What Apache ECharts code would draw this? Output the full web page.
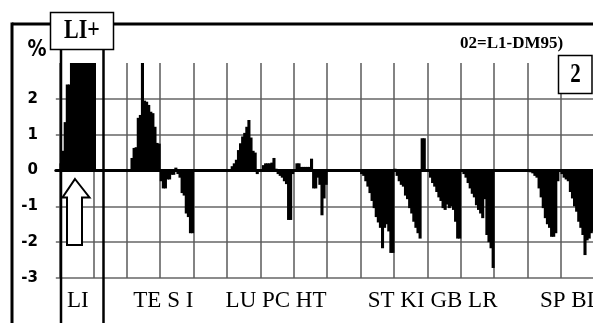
<!DOCTYPE html>
<html>
<head>
<meta charset="utf-8">
<script src="https://cdn.jsdelivr.net/npm/echarts@6.0.0/dist/echarts.min.js"></script>
<style>
html, body { margin: 0; padding: 0; background: #fff; }
#container { width: 593px; height: 323px; }
</style>
</head>
<body>
<div id="container"></div>
<script>
// % values, one array per 16-bar block between vertical grid lines
var LI_a = [0.2, 0.55, 1.35, 2.4, 2.4, 3, 3, 3, 3, 3, 3, 3, 3, 3, 3, 3];
var LI_b = [3, null, null, null, null, null, null, null, null, null, null, null, null, null, null, null];
var TE = [0, 0, 0.35, 0.63, 0.65, 1.47, 1.55, 3, 1.95, 1.92, 1.83, 1.64, 1.6, 1.22, 0.77, 0.75];
var S_I = [-0.3, -0.5, -0.5, -0.25, -0.25, -0.12, -0.12, 0.08, -0.1, -0.2, -0.63, -0.7, -1.2, -1.3, -1.75, -1.75];
var gapA = [null, null, null, null, null, null, null, null, null, null, null, null, null, null, null, null];
var LU = [0, 0, 0.12, 0.2, 0.3, 0.57, 0.76, 0.95, 1.05, 1.22, 1.41, 0.92, 0.55, 0.5, -0.1, 0];
var PC = [0, 0.15, 0.2, 0.2, 0.2, 0.22, 0.35, 0.05, -0.1, -0.15, -0.2, -0.3, -0.38, -1.38, -1.38, -0.1];
var HT = [0, 0.2, 0.2, 0.1, 0.1, 0.1, 0.1, 0.1, 0.33, -0.5, -0.5, -0.2, -0.4, -1.25, -0.78, -0.4];
var gapB = [null, null, null, null, null, null, null, null, null, null, null, null, null, null, null, null];
var ST = [-0.1, -0.15, -0.3, -0.45, -0.63, -0.85, -1.05, -1.3, -1.45, -1.6, -2.17, -1.6, -1.5, -1.7, -2.3, -2.3];
var KI = [0.05, -0.15, -0.3, -0.4, -0.45, -0.7, -0.8, -1.05, -1.2, -1.43, -1.6, -1.75, -1.9, 0.9, 0.9, 0];
var GB = [0, -0.2, -0.35, -0.45, -0.6, -0.75, -0.85, -1.05, -1.1, -0.95, -1.05, -1, -1.1, -1.43, -1.9, -1.9];
var LR = [0, -0.1, -0.2, -0.35, -0.5, -0.65, -0.75, -0.97, -1.1, -1.2, -1.33, -0.8, -1.8, -2, -2.17, -2.72];
var gapC = [null, null, null, null, null, null, null, null, null, null, null, null, null, null, null, null];
var SP = [0, -0.05, -0.08, -0.15, -0.2, -0.5, -0.75, -1.05, -1.33, -1.5, -1.6, -1.85, -1.85, -1.75, -0.3, 0];
var BL = [-0.1, -0.2, -0.25, -0.3, -0.6, -0.78, -1, -1.15, -1.43, -1.6, -1.8, -2.36, -1.95, -1.9, -1.75, -1.7];

// group names under the axis and the bar each one is centred on
var groupLabels = ['LI', 'TE S I', 'LU PC HT', 'ST KI GB LR', 'SP BL'];
var groupLabelAt = [8, 49, 103, 178, 244];

window.onload = function () {
    var myChart = echarts.init(document.getElementById('container'));
    var blocks = [LI_a, LI_b, TE, S_I, gapA, LU, PC, HT, gapB, ST, KI, GB, LR, gapC, SP, BL];
    var lead = 2; // empty slots so the horizontal grid starts left of the first block
    var values = [null, null];
    blocks.forEach(function (b) { values = values.concat(b); });
    var cats = values.map(function (v, i) { return String(i); });
    var slot = 33.4 / 16;

    var labelIdx = {};
    groupLabelAt.forEach(function (p, i) { labelIdx[p + lead] = groupLabels[i]; });

    var grey = '#8c8c8c';
    var option = {
        animation: false,
        grid: {
            left: 60 - lead * slot, top: 63, width: values.length * slot, height: 215,
            outerBoundsMode: 'none'
        },
        xAxis: [{
            type: 'category',
            position: 'top',
            data: cats,
            axisLine: { onZero: true, lineStyle: { color: '#000', width: 3 } },
            axisTick: { show: false },
            axisLabel: { show: false },
            splitLine: {
                show: true,
                interval: function (index) { return index >= lead && (index - lead) % 16 === 0; },
                lineStyle: { color: '#5a5a5a', width: 1.5 }
            }
        }, {
            type: 'category',
            position: 'bottom',
            data: cats,
            axisLine: { show: false, onZero: false },
            axisTick: { show: false },
            splitLine: { show: false },
            axisLabel: {
                interval: function (index) { return labelIdx[index] !== undefined; },
                formatter: function (v, index) { return labelIdx[index] || ''; },
                fontFamily: 'Liberation Serif',
                fontSize: 23,
                color: '#000',
                margin: 11
            }
        }],
        yAxis: {
            type: 'value',
            min: -3,
            max: 3,
            interval: 1,
            axisLine: { show: false },
            axisTick: { show: false },
            axisLabel: {
                showMaxLabel: false,
                margin: 18,
                fontFamily: 'DejaVu Sans',
                fontWeight: 'bold',
                fontSize: 15,
                color: '#000'
            },
            splitLine: {
                lineStyle: { color: [grey, grey, grey, grey, grey, grey, 'rgba(0,0,0,0)'], width: 2 }
            }
        },
        series: [{
            type: 'bar',
            xAxisIndex: 0,
            data: values,
            barWidth: slot + 1,
            itemStyle: { color: '#000' },
            silent: true
        }],
        graphic: [
            { type: 'line', z: 50, shape: { x1: 12, y1: 24, x2: 600, y2: 24 }, style: { stroke: '#000', lineWidth: 3 } },
            { type: 'line', z: 50, shape: { x1: 12, y1: 22.5, x2: 12, y2: 330 }, style: { stroke: '#000', lineWidth: 3 } },
            { type: 'line', z: 50, shape: { x1: 61, y1: 49, x2: 61, y2: 330 }, style: { stroke: '#000', lineWidth: 2.5 } },
            { type: 'line', z: 50, shape: { x1: 103.5, y1: 49, x2: 103.5, y2: 330 }, style: { stroke: '#000', lineWidth: 2.5 } },
            { type: 'rect', z: 60, shape: { x: 50.5, y: 12.5, width: 63, height: 37 }, style: { fill: '#fff', stroke: '#000', lineWidth: 1.5 } },
            { type: 'text', z: 61, x: 82, y: 31, scaleY: 1.25, style: { text: 'LI+', font: 'bold 22px "Liberation Serif"', fill: '#000', align: 'center', verticalAlign: 'middle' } },
            { type: 'text', z: 61, x: 37, y: 50, scaleY: 1.25, style: { text: '%', font: 'bold 19px "DejaVu Sans"', fill: '#000', align: 'center', verticalAlign: 'middle' } },
            { type: 'polygon', z: 60, shape: { points: [[75, 179], [89.5, 197.5], [82, 197.5], [82, 245], [67, 245], [67, 197.5], [62.5, 197.5]] }, style: { fill: '#fff', stroke: '#000', lineWidth: 2 } },
            { type: 'text', z: 61, x: 460, y: 44, style: { text: '02=L1-DM95)', font: 'bold 17px "Liberation Serif"', fill: '#000', align: 'left', verticalAlign: 'middle' } },
            { type: 'rect', z: 60, shape: { x: 558.5, y: 55.5, width: 33.5, height: 38 }, style: { fill: '#fff', stroke: '#000', lineWidth: 1.5 } },
            { type: 'text', z: 61, x: 575.5, y: 75, scaleY: 1.35, style: { text: '2', font: 'bold 21px "Liberation Serif"', fill: '#000', align: 'center', verticalAlign: 'middle' } }
        ]
    };
    myChart.setOption(option);
};
</script>
</body>
</html>
